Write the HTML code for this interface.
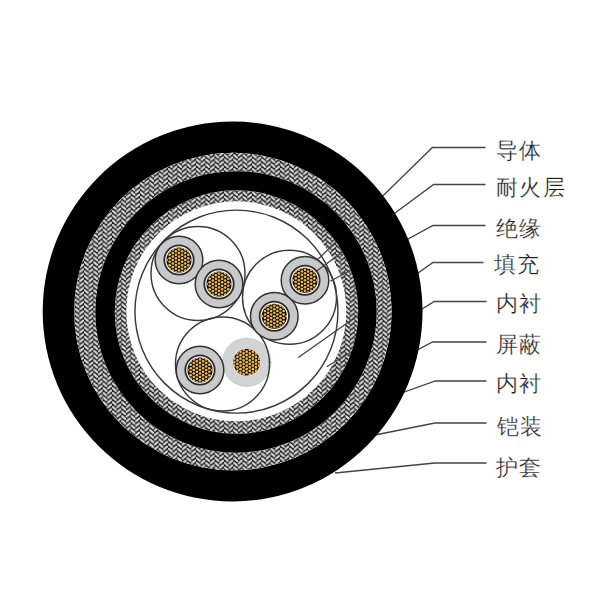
<!DOCTYPE html>
<html><head><meta charset="utf-8">
<style>
html,body{margin:0;padding:0;background:#fff;width:600px;height:600px;overflow:hidden}
svg{position:absolute;left:0;top:0}
.t{font-family:"Liberation Sans",sans-serif;font-size:22px;font-weight:300;letter-spacing:1.4px;fill:#1e1e1e;stroke:#fff;stroke-width:0.25px}
</style></head><body>
<svg width="600" height="600" viewBox="0 0 600 600">
<defs>
<clipPath id="k0"><circle cx="179" cy="260" r="12.6"/></clipPath>
<clipPath id="k1"><circle cx="219" cy="284" r="12.6"/></clipPath>
<clipPath id="k2"><circle cx="305" cy="280.25" r="12.6"/></clipPath>
<clipPath id="k3"><circle cx="274.3" cy="316.25" r="12.6"/></clipPath>
<clipPath id="k4"><circle cx="200" cy="370" r="12.6"/></clipPath>
<clipPath id="k5"><circle cx="246.7" cy="362.2" r="13.4"/></clipPath>
<pattern id="br" patternUnits="userSpaceOnUse" width="9.33" height="9.33">
<rect width="9.33" height="9.33" fill="#1c1c1c"/>
<g stroke="#d8d8d8" stroke-width="2.1" stroke-linecap="round">
<line x1="0.85" y1="1.0" x2="3.8" y2="3.65"/>
<line x1="0.85" y1="5.67" x2="3.8" y2="8.32"/>
<line x1="5.5" y1="1.33" x2="8.5" y2="-1.33"/>
<line x1="5.5" y1="6.0" x2="8.5" y2="3.34"/>
<line x1="5.5" y1="10.67" x2="8.5" y2="8.01"/>
</g>
</pattern>
<g id="cond">
<circle r="23.8" fill="#c9c9cc" stroke="#333" stroke-width="1.5"/>
<circle r="14.7" fill="#fff" stroke="#2c2c2c" stroke-width="1.8"/>
<circle r="12.6" fill="#100c05"/>
</g>
<g id="condf">
<circle r="24.3" fill="#d3d3d5" stroke="#8a8a8a" stroke-width="0.6" stroke-dasharray="1 1.6"/>
<circle r="14.1" fill="#fff" stroke="#9a9a9a" stroke-width="0.5" stroke-dasharray="1 1.6"/>
<circle r="13.4" fill="#100c05"/>
</g>
</defs>
<circle cx="236.5" cy="312" r="121.75" fill="url(#br)"/>
<circle cx="236.3" cy="311.3" r="110" fill="#fff"/>
<circle cx="236.45" cy="311.6" r="101.5" fill="none" stroke="#3a3a3a" stroke-width="1.45"/>
<use href="#condf" x="246.7" y="362.2"/><g fill="#ecb955" clip-path="url(#k5)"><circle cx="234.30" cy="358.70" r="1.35"/><circle cx="234.30" cy="362.20" r="1.35"/><circle cx="234.30" cy="365.70" r="1.35"/><circle cx="237.40" cy="353.45" r="1.35"/><circle cx="237.40" cy="356.95" r="1.35"/><circle cx="237.40" cy="360.45" r="1.35"/><circle cx="237.40" cy="363.95" r="1.35"/><circle cx="237.40" cy="367.45" r="1.35"/><circle cx="237.40" cy="370.95" r="1.35"/><circle cx="240.50" cy="351.70" r="1.35"/><circle cx="240.50" cy="355.20" r="1.35"/><circle cx="240.50" cy="358.70" r="1.35"/><circle cx="240.50" cy="362.20" r="1.35"/><circle cx="240.50" cy="365.70" r="1.35"/><circle cx="240.50" cy="369.20" r="1.35"/><circle cx="240.50" cy="372.70" r="1.35"/><circle cx="243.60" cy="349.95" r="1.35"/><circle cx="243.60" cy="353.45" r="1.35"/><circle cx="243.60" cy="356.95" r="1.35"/><circle cx="243.60" cy="360.45" r="1.35"/><circle cx="243.60" cy="363.95" r="1.35"/><circle cx="243.60" cy="367.45" r="1.35"/><circle cx="243.60" cy="370.95" r="1.35"/><circle cx="243.60" cy="374.45" r="1.35"/><circle cx="246.70" cy="351.70" r="1.35"/><circle cx="246.70" cy="355.20" r="1.35"/><circle cx="246.70" cy="358.70" r="1.35"/><circle cx="246.70" cy="362.20" r="1.35"/><circle cx="246.70" cy="365.70" r="1.35"/><circle cx="246.70" cy="369.20" r="1.35"/><circle cx="246.70" cy="372.70" r="1.35"/><circle cx="249.80" cy="349.95" r="1.35"/><circle cx="249.80" cy="353.45" r="1.35"/><circle cx="249.80" cy="356.95" r="1.35"/><circle cx="249.80" cy="360.45" r="1.35"/><circle cx="249.80" cy="363.95" r="1.35"/><circle cx="249.80" cy="367.45" r="1.35"/><circle cx="249.80" cy="370.95" r="1.35"/><circle cx="249.80" cy="374.45" r="1.35"/><circle cx="252.90" cy="351.70" r="1.35"/><circle cx="252.90" cy="355.20" r="1.35"/><circle cx="252.90" cy="358.70" r="1.35"/><circle cx="252.90" cy="362.20" r="1.35"/><circle cx="252.90" cy="365.70" r="1.35"/><circle cx="252.90" cy="369.20" r="1.35"/><circle cx="252.90" cy="372.70" r="1.35"/><circle cx="256.00" cy="353.45" r="1.35"/><circle cx="256.00" cy="356.95" r="1.35"/><circle cx="256.00" cy="360.45" r="1.35"/><circle cx="256.00" cy="363.95" r="1.35"/><circle cx="256.00" cy="367.45" r="1.35"/><circle cx="256.00" cy="370.95" r="1.35"/><circle cx="259.10" cy="358.70" r="1.35"/><circle cx="259.10" cy="362.20" r="1.35"/><circle cx="259.10" cy="365.70" r="1.35"/></g>
<g fill="none" stroke="#3a3a3a" stroke-width="1.45">
<circle cx="198" cy="273.5" r="47"/>
<circle cx="289.5" cy="297.3" r="47"/>
<circle cx="222.5" cy="364" r="47"/>
</g>
<use href="#cond" x="179" y="260"/><g fill="#ecb955" clip-path="url(#k0)"><circle cx="166.60" cy="260.00" r="1.35"/><circle cx="169.70" cy="251.25" r="1.35"/><circle cx="169.70" cy="254.75" r="1.35"/><circle cx="169.70" cy="258.25" r="1.35"/><circle cx="169.70" cy="261.75" r="1.35"/><circle cx="169.70" cy="265.25" r="1.35"/><circle cx="169.70" cy="268.75" r="1.35"/><circle cx="172.80" cy="249.50" r="1.35"/><circle cx="172.80" cy="253.00" r="1.35"/><circle cx="172.80" cy="256.50" r="1.35"/><circle cx="172.80" cy="260.00" r="1.35"/><circle cx="172.80" cy="263.50" r="1.35"/><circle cx="172.80" cy="267.00" r="1.35"/><circle cx="172.80" cy="270.50" r="1.35"/><circle cx="175.90" cy="247.75" r="1.35"/><circle cx="175.90" cy="251.25" r="1.35"/><circle cx="175.90" cy="254.75" r="1.35"/><circle cx="175.90" cy="258.25" r="1.35"/><circle cx="175.90" cy="261.75" r="1.35"/><circle cx="175.90" cy="265.25" r="1.35"/><circle cx="175.90" cy="268.75" r="1.35"/><circle cx="175.90" cy="272.25" r="1.35"/><circle cx="179.00" cy="249.50" r="1.35"/><circle cx="179.00" cy="253.00" r="1.35"/><circle cx="179.00" cy="256.50" r="1.35"/><circle cx="179.00" cy="260.00" r="1.35"/><circle cx="179.00" cy="263.50" r="1.35"/><circle cx="179.00" cy="267.00" r="1.35"/><circle cx="179.00" cy="270.50" r="1.35"/><circle cx="182.10" cy="247.75" r="1.35"/><circle cx="182.10" cy="251.25" r="1.35"/><circle cx="182.10" cy="254.75" r="1.35"/><circle cx="182.10" cy="258.25" r="1.35"/><circle cx="182.10" cy="261.75" r="1.35"/><circle cx="182.10" cy="265.25" r="1.35"/><circle cx="182.10" cy="268.75" r="1.35"/><circle cx="182.10" cy="272.25" r="1.35"/><circle cx="185.20" cy="249.50" r="1.35"/><circle cx="185.20" cy="253.00" r="1.35"/><circle cx="185.20" cy="256.50" r="1.35"/><circle cx="185.20" cy="260.00" r="1.35"/><circle cx="185.20" cy="263.50" r="1.35"/><circle cx="185.20" cy="267.00" r="1.35"/><circle cx="185.20" cy="270.50" r="1.35"/><circle cx="188.30" cy="251.25" r="1.35"/><circle cx="188.30" cy="254.75" r="1.35"/><circle cx="188.30" cy="258.25" r="1.35"/><circle cx="188.30" cy="261.75" r="1.35"/><circle cx="188.30" cy="265.25" r="1.35"/><circle cx="188.30" cy="268.75" r="1.35"/><circle cx="191.40" cy="260.00" r="1.35"/></g>
<use href="#cond" x="219" y="284"/><g fill="#ecb955" clip-path="url(#k1)"><circle cx="206.60" cy="284.00" r="1.35"/><circle cx="209.70" cy="275.25" r="1.35"/><circle cx="209.70" cy="278.75" r="1.35"/><circle cx="209.70" cy="282.25" r="1.35"/><circle cx="209.70" cy="285.75" r="1.35"/><circle cx="209.70" cy="289.25" r="1.35"/><circle cx="209.70" cy="292.75" r="1.35"/><circle cx="212.80" cy="273.50" r="1.35"/><circle cx="212.80" cy="277.00" r="1.35"/><circle cx="212.80" cy="280.50" r="1.35"/><circle cx="212.80" cy="284.00" r="1.35"/><circle cx="212.80" cy="287.50" r="1.35"/><circle cx="212.80" cy="291.00" r="1.35"/><circle cx="212.80" cy="294.50" r="1.35"/><circle cx="215.90" cy="271.75" r="1.35"/><circle cx="215.90" cy="275.25" r="1.35"/><circle cx="215.90" cy="278.75" r="1.35"/><circle cx="215.90" cy="282.25" r="1.35"/><circle cx="215.90" cy="285.75" r="1.35"/><circle cx="215.90" cy="289.25" r="1.35"/><circle cx="215.90" cy="292.75" r="1.35"/><circle cx="215.90" cy="296.25" r="1.35"/><circle cx="219.00" cy="273.50" r="1.35"/><circle cx="219.00" cy="277.00" r="1.35"/><circle cx="219.00" cy="280.50" r="1.35"/><circle cx="219.00" cy="284.00" r="1.35"/><circle cx="219.00" cy="287.50" r="1.35"/><circle cx="219.00" cy="291.00" r="1.35"/><circle cx="219.00" cy="294.50" r="1.35"/><circle cx="222.10" cy="271.75" r="1.35"/><circle cx="222.10" cy="275.25" r="1.35"/><circle cx="222.10" cy="278.75" r="1.35"/><circle cx="222.10" cy="282.25" r="1.35"/><circle cx="222.10" cy="285.75" r="1.35"/><circle cx="222.10" cy="289.25" r="1.35"/><circle cx="222.10" cy="292.75" r="1.35"/><circle cx="222.10" cy="296.25" r="1.35"/><circle cx="225.20" cy="273.50" r="1.35"/><circle cx="225.20" cy="277.00" r="1.35"/><circle cx="225.20" cy="280.50" r="1.35"/><circle cx="225.20" cy="284.00" r="1.35"/><circle cx="225.20" cy="287.50" r="1.35"/><circle cx="225.20" cy="291.00" r="1.35"/><circle cx="225.20" cy="294.50" r="1.35"/><circle cx="228.30" cy="275.25" r="1.35"/><circle cx="228.30" cy="278.75" r="1.35"/><circle cx="228.30" cy="282.25" r="1.35"/><circle cx="228.30" cy="285.75" r="1.35"/><circle cx="228.30" cy="289.25" r="1.35"/><circle cx="228.30" cy="292.75" r="1.35"/><circle cx="231.40" cy="284.00" r="1.35"/></g>
<use href="#cond" x="305" y="280.25"/><g fill="#ecb955" clip-path="url(#k2)"><circle cx="292.60" cy="280.25" r="1.35"/><circle cx="295.70" cy="271.50" r="1.35"/><circle cx="295.70" cy="275.00" r="1.35"/><circle cx="295.70" cy="278.50" r="1.35"/><circle cx="295.70" cy="282.00" r="1.35"/><circle cx="295.70" cy="285.50" r="1.35"/><circle cx="295.70" cy="289.00" r="1.35"/><circle cx="298.80" cy="269.75" r="1.35"/><circle cx="298.80" cy="273.25" r="1.35"/><circle cx="298.80" cy="276.75" r="1.35"/><circle cx="298.80" cy="280.25" r="1.35"/><circle cx="298.80" cy="283.75" r="1.35"/><circle cx="298.80" cy="287.25" r="1.35"/><circle cx="298.80" cy="290.75" r="1.35"/><circle cx="301.90" cy="268.00" r="1.35"/><circle cx="301.90" cy="271.50" r="1.35"/><circle cx="301.90" cy="275.00" r="1.35"/><circle cx="301.90" cy="278.50" r="1.35"/><circle cx="301.90" cy="282.00" r="1.35"/><circle cx="301.90" cy="285.50" r="1.35"/><circle cx="301.90" cy="289.00" r="1.35"/><circle cx="301.90" cy="292.50" r="1.35"/><circle cx="305.00" cy="269.75" r="1.35"/><circle cx="305.00" cy="273.25" r="1.35"/><circle cx="305.00" cy="276.75" r="1.35"/><circle cx="305.00" cy="280.25" r="1.35"/><circle cx="305.00" cy="283.75" r="1.35"/><circle cx="305.00" cy="287.25" r="1.35"/><circle cx="305.00" cy="290.75" r="1.35"/><circle cx="308.10" cy="268.00" r="1.35"/><circle cx="308.10" cy="271.50" r="1.35"/><circle cx="308.10" cy="275.00" r="1.35"/><circle cx="308.10" cy="278.50" r="1.35"/><circle cx="308.10" cy="282.00" r="1.35"/><circle cx="308.10" cy="285.50" r="1.35"/><circle cx="308.10" cy="289.00" r="1.35"/><circle cx="308.10" cy="292.50" r="1.35"/><circle cx="311.20" cy="269.75" r="1.35"/><circle cx="311.20" cy="273.25" r="1.35"/><circle cx="311.20" cy="276.75" r="1.35"/><circle cx="311.20" cy="280.25" r="1.35"/><circle cx="311.20" cy="283.75" r="1.35"/><circle cx="311.20" cy="287.25" r="1.35"/><circle cx="311.20" cy="290.75" r="1.35"/><circle cx="314.30" cy="271.50" r="1.35"/><circle cx="314.30" cy="275.00" r="1.35"/><circle cx="314.30" cy="278.50" r="1.35"/><circle cx="314.30" cy="282.00" r="1.35"/><circle cx="314.30" cy="285.50" r="1.35"/><circle cx="314.30" cy="289.00" r="1.35"/><circle cx="317.40" cy="280.25" r="1.35"/></g>
<use href="#cond" x="274.3" y="316.25"/><g fill="#ecb955" clip-path="url(#k3)"><circle cx="261.90" cy="316.25" r="1.35"/><circle cx="265.00" cy="307.50" r="1.35"/><circle cx="265.00" cy="311.00" r="1.35"/><circle cx="265.00" cy="314.50" r="1.35"/><circle cx="265.00" cy="318.00" r="1.35"/><circle cx="265.00" cy="321.50" r="1.35"/><circle cx="265.00" cy="325.00" r="1.35"/><circle cx="268.10" cy="305.75" r="1.35"/><circle cx="268.10" cy="309.25" r="1.35"/><circle cx="268.10" cy="312.75" r="1.35"/><circle cx="268.10" cy="316.25" r="1.35"/><circle cx="268.10" cy="319.75" r="1.35"/><circle cx="268.10" cy="323.25" r="1.35"/><circle cx="268.10" cy="326.75" r="1.35"/><circle cx="271.20" cy="304.00" r="1.35"/><circle cx="271.20" cy="307.50" r="1.35"/><circle cx="271.20" cy="311.00" r="1.35"/><circle cx="271.20" cy="314.50" r="1.35"/><circle cx="271.20" cy="318.00" r="1.35"/><circle cx="271.20" cy="321.50" r="1.35"/><circle cx="271.20" cy="325.00" r="1.35"/><circle cx="271.20" cy="328.50" r="1.35"/><circle cx="274.30" cy="305.75" r="1.35"/><circle cx="274.30" cy="309.25" r="1.35"/><circle cx="274.30" cy="312.75" r="1.35"/><circle cx="274.30" cy="316.25" r="1.35"/><circle cx="274.30" cy="319.75" r="1.35"/><circle cx="274.30" cy="323.25" r="1.35"/><circle cx="274.30" cy="326.75" r="1.35"/><circle cx="277.40" cy="304.00" r="1.35"/><circle cx="277.40" cy="307.50" r="1.35"/><circle cx="277.40" cy="311.00" r="1.35"/><circle cx="277.40" cy="314.50" r="1.35"/><circle cx="277.40" cy="318.00" r="1.35"/><circle cx="277.40" cy="321.50" r="1.35"/><circle cx="277.40" cy="325.00" r="1.35"/><circle cx="277.40" cy="328.50" r="1.35"/><circle cx="280.50" cy="305.75" r="1.35"/><circle cx="280.50" cy="309.25" r="1.35"/><circle cx="280.50" cy="312.75" r="1.35"/><circle cx="280.50" cy="316.25" r="1.35"/><circle cx="280.50" cy="319.75" r="1.35"/><circle cx="280.50" cy="323.25" r="1.35"/><circle cx="280.50" cy="326.75" r="1.35"/><circle cx="283.60" cy="307.50" r="1.35"/><circle cx="283.60" cy="311.00" r="1.35"/><circle cx="283.60" cy="314.50" r="1.35"/><circle cx="283.60" cy="318.00" r="1.35"/><circle cx="283.60" cy="321.50" r="1.35"/><circle cx="283.60" cy="325.00" r="1.35"/><circle cx="286.70" cy="316.25" r="1.35"/></g>
<use href="#cond" x="200" y="370"/><g fill="#ecb955" clip-path="url(#k4)"><circle cx="187.60" cy="370.00" r="1.35"/><circle cx="190.70" cy="361.25" r="1.35"/><circle cx="190.70" cy="364.75" r="1.35"/><circle cx="190.70" cy="368.25" r="1.35"/><circle cx="190.70" cy="371.75" r="1.35"/><circle cx="190.70" cy="375.25" r="1.35"/><circle cx="190.70" cy="378.75" r="1.35"/><circle cx="193.80" cy="359.50" r="1.35"/><circle cx="193.80" cy="363.00" r="1.35"/><circle cx="193.80" cy="366.50" r="1.35"/><circle cx="193.80" cy="370.00" r="1.35"/><circle cx="193.80" cy="373.50" r="1.35"/><circle cx="193.80" cy="377.00" r="1.35"/><circle cx="193.80" cy="380.50" r="1.35"/><circle cx="196.90" cy="357.75" r="1.35"/><circle cx="196.90" cy="361.25" r="1.35"/><circle cx="196.90" cy="364.75" r="1.35"/><circle cx="196.90" cy="368.25" r="1.35"/><circle cx="196.90" cy="371.75" r="1.35"/><circle cx="196.90" cy="375.25" r="1.35"/><circle cx="196.90" cy="378.75" r="1.35"/><circle cx="196.90" cy="382.25" r="1.35"/><circle cx="200.00" cy="359.50" r="1.35"/><circle cx="200.00" cy="363.00" r="1.35"/><circle cx="200.00" cy="366.50" r="1.35"/><circle cx="200.00" cy="370.00" r="1.35"/><circle cx="200.00" cy="373.50" r="1.35"/><circle cx="200.00" cy="377.00" r="1.35"/><circle cx="200.00" cy="380.50" r="1.35"/><circle cx="203.10" cy="357.75" r="1.35"/><circle cx="203.10" cy="361.25" r="1.35"/><circle cx="203.10" cy="364.75" r="1.35"/><circle cx="203.10" cy="368.25" r="1.35"/><circle cx="203.10" cy="371.75" r="1.35"/><circle cx="203.10" cy="375.25" r="1.35"/><circle cx="203.10" cy="378.75" r="1.35"/><circle cx="203.10" cy="382.25" r="1.35"/><circle cx="206.20" cy="359.50" r="1.35"/><circle cx="206.20" cy="363.00" r="1.35"/><circle cx="206.20" cy="366.50" r="1.35"/><circle cx="206.20" cy="370.00" r="1.35"/><circle cx="206.20" cy="373.50" r="1.35"/><circle cx="206.20" cy="377.00" r="1.35"/><circle cx="206.20" cy="380.50" r="1.35"/><circle cx="209.30" cy="361.25" r="1.35"/><circle cx="209.30" cy="364.75" r="1.35"/><circle cx="209.30" cy="368.25" r="1.35"/><circle cx="209.30" cy="371.75" r="1.35"/><circle cx="209.30" cy="375.25" r="1.35"/><circle cx="209.30" cy="378.75" r="1.35"/><circle cx="212.40" cy="370.00" r="1.35"/></g>
<g fill="none" stroke="#444" stroke-width="1.3">
<polyline points="485.5,147.5 432.4,147.5 318,259.3"/>
<polyline points="485.5,184.5 433.6,184.5 316.7,271"/>
<polyline points="485.5,225.5 433,225.5 330.3,281.3"/>
<polyline points="483.5,262.5 433,262.5 298.3,357.5"/>
<polyline points="486.5,301.5 434.4,301.5 326.7,366.7"/>
<polyline points="486.5,342 432.6,342 345,388"/>
<polyline points="486.5,381 435.4,381 365,406"/>
<polyline points="486.5,423 434.9,423 375,435"/>
<polyline points="486.5,463 434.9,463 335,473"/>
</g>
<path fill-rule="evenodd" fill="#000" d="M42.69999999999999,311.5A189.9,189.9 0 1 0 422.5,311.5A189.9,189.9 0 1 0 42.69999999999999,311.5ZM74.15,311.6A158.75,158.75 0 1 0 391.65,311.6A158.75,158.75 0 1 0 74.15,311.6Z"/>
<path fill-rule="evenodd" fill="url(#br)" d="M74.15,311.6A158.75,158.75 0 1 0 391.65,311.6A158.75,158.75 0 1 0 74.15,311.6ZM95.30000000000001,311.9A140.7,140.7 0 1 0 376.7,311.9A140.7,140.7 0 1 0 95.30000000000001,311.9Z"/>
<path fill-rule="evenodd" fill="#000" d="M95.30000000000001,311.9A140.7,140.7 0 1 0 376.7,311.9A140.7,140.7 0 1 0 95.30000000000001,311.9ZM114.75,312A121.75,121.75 0 1 0 358.25,312A121.75,121.75 0 1 0 114.75,312Z"/>
<g class="t">
<text x="496" y="158">导体</text>
<text x="496" y="195">耐火层</text>
<text x="496" y="236">绝缘</text>
<text x="494" y="272">填充</text>
<text x="496" y="311">内衬</text>
<text x="496" y="352">屏蔽</text>
<text x="496" y="391">内衬</text>
<text x="497" y="434">铠装</text>
<text x="496" y="475">护套</text>
</g>
</svg>
</body></html>
